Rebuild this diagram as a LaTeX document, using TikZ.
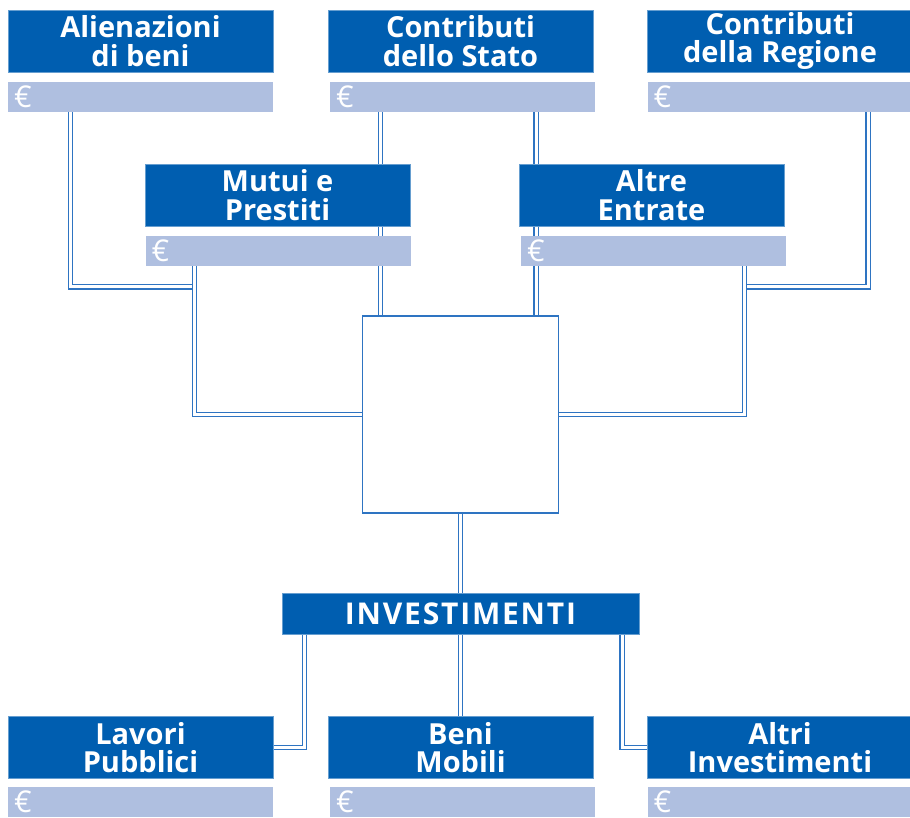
\documentclass[tikz,border=0pt]{standalone}
\usepackage{fontspec}
\setmainfont{Open Sans}
\usetikzlibrary{backgrounds}
\definecolor{boxblue}{HTML}{005EB0}
\definecolor{barblue}{HTML}{AFBFE0}
\definecolor{linkblue}{HTML}{2E74C2}

\begin{document}
\begin{tikzpicture}[x=1pt, y=-1pt,
    titolo/.style={draw=boxblue!60, fill=boxblue, text=white, minimum width=265pt, minimum height=62pt, inner sep=0pt, align=center, font=\fontsize{29}{28.5}\selectfont\bfseries},
    euro/.style={fill=barblue, text=white, minimum width=265pt, minimum height=30pt, inner xsep=6pt, inner ysep=0pt, text width=253pt, align=left, font=\fontsize{30}{30}\selectfont},
    dbl/.style={draw=linkblue, line width=1.3pt, double=white, double distance=3pt}]
    \useasboundingbox (0,0) rectangle (910,818);

    % Entrate in alto
    \node[titolo] (alien) at (140.5,41) {Alienazioni\\di beni};
    \node[euro] (alienE) at (140.5,97) {€};
    \node[titolo] (stato) at (460.5,41) {Contributi\\dello Stato};
    \node[euro] (statoE) at (462.5,97) {€};
    \node[titolo] (regione) at (780,41) {Contributi\\della Regione};
    \node[euro] (regioneE) at (780,97) {€};

    % Entrate intermedie
    \node[titolo] (mutui) at (277.5,195) {Mutui e\\Prestiti};
    \node[euro] (mutuiE) at (278,251) {€};
    \node[titolo] (altre) at (651.5,195) {Altre\\Entrate};
    \node[euro] (altreE) at (653.5,251) {€};

    % Riquadro centrale
    \node[draw=linkblue, line width=1.3pt, fill=white, minimum width=196pt, minimum height=197pt] (centro) at (460.5,414.5) {};

    % Investimenti
    \node[draw=boxblue!60, fill=boxblue, text=white, minimum width=357pt, minimum height=41pt, inner sep=0pt, font=\fontsize{30}{30}\selectfont\bfseries\addfontfeatures{LetterSpace=6}] (invest) at (460.5,613.5) {INVESTIMENTI};

    % Uscite in basso
    \node[titolo] (lavori) at (140.5,747.5) {Lavori\\Pubblici};
    \node[euro] (lavoriE) at (140.5,802) {€};
    \node[titolo] (beni) at (460.5,747.5) {Beni\\Mobili};
    \node[euro] (beniE) at (462.5,802) {€};
    \node[titolo] (altri) at (780,747.5) {Altri\\Investimenti};
    \node[euro] (altriE) at (780,802) {€};

    % Collegamenti doppi
    \begin{scope}[on background layer]
        \coordinate (gA) at (194.5,287);
        \coordinate (gR) at (744.5,287);
        \draw[dbl] ([xshift=-70]alienE.south) |- (gA);
        \draw[dbl] ([xshift=-83.5]mutuiE.south) |- (centro.west);
        \draw[dbl] ([xshift=-82]statoE.south) -- ([xshift=-82]statoE.south |- centro.north);
        \draw[dbl] ([xshift=73.5]statoE.south) -- ([xshift=73.5]statoE.south |- centro.north);
        \draw[dbl] ([xshift=88]regioneE.south) |- (gR);
        \draw[dbl] ([xshift=91]altreE.south) |- (centro.east);
        \draw[dbl] (centro.south) -- (invest.north);
        \draw[dbl] (invest.south) -- (beni.north);
        \draw[dbl] ([xshift=-156]invest.south) |- (lavori.east);
        \draw[dbl] ([xshift=161.5]invest.south) |- (altri.west);
    \end{scope}
\end{tikzpicture}
\end{document}
